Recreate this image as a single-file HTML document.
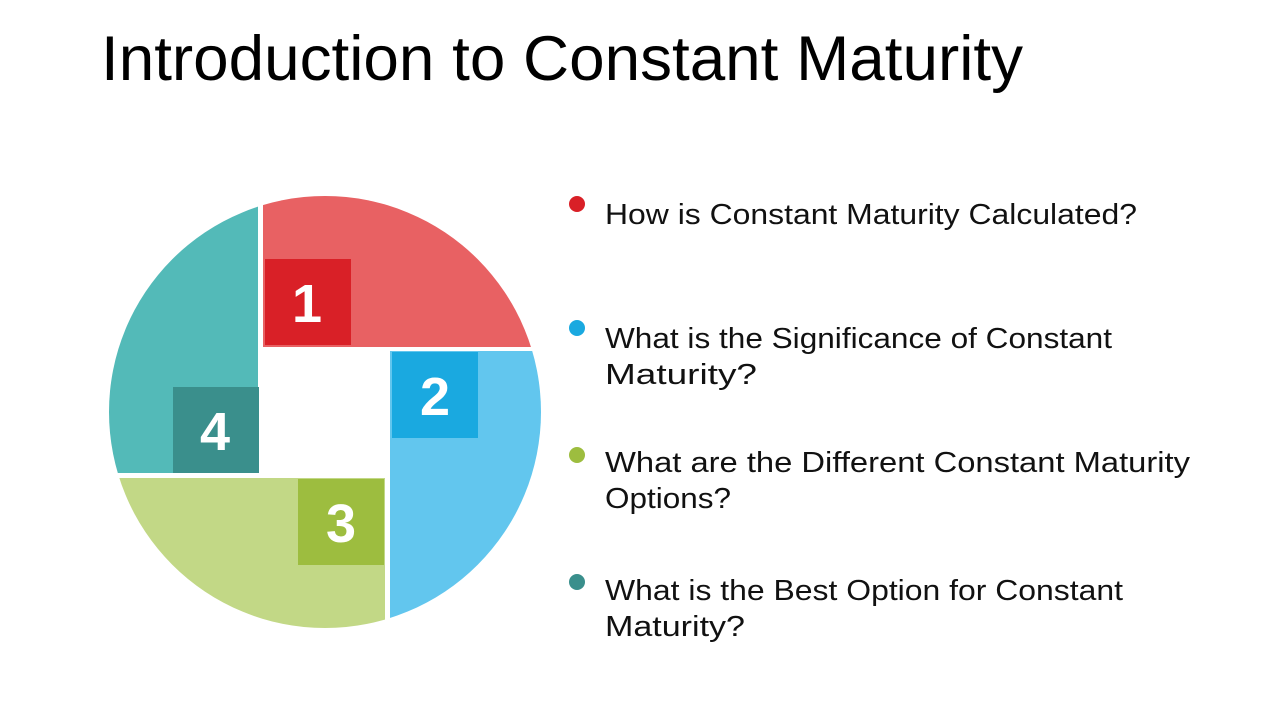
<!DOCTYPE html>
<html><head><meta charset="utf-8"><style>
html,body{margin:0;padding:0;background:#fff;width:1280px;height:720px;overflow:hidden}
svg{display:block}
</style></head><body>
<svg width="1280" height="720" viewBox="0 0 1280 720">
<defs><clipPath id="c"><circle cx="325" cy="412" r="216"/></clipPath></defs>
<text x="101" y="80" font-family="Liberation Sans, sans-serif" font-size="63" fill="#000" textLength="922" lengthAdjust="spacingAndGlyphs">Introduction to Constant Maturity</text>
<g clip-path="url(#c)">
<rect x="263" y="150" width="320" height="197" fill="#e86163"/>
<rect x="390" y="351" width="200" height="320" fill="#62c6ee"/>
<rect x="60" y="478" width="325" height="200" fill="#c2d886"/>
<rect x="60" y="150" width="198" height="323" fill="#53bab8"/>
</g>
<g font-family="Liberation Sans, sans-serif" font-size="54" font-weight="bold" fill="#fff" text-anchor="middle">
<rect x="265" y="259" width="86" height="86" fill="#d92027"/>
<text x="307" y="322">1</text>
<rect x="392" y="352" width="86" height="86" fill="#1aa9e0"/>
<text x="435" y="415">2</text>
<rect x="298" y="479" width="86" height="86" fill="#9dbd3f"/>
<text x="341" y="542">3</text>
<rect x="173" y="387" width="86" height="86" fill="#3a8f8c"/>
<text x="215" y="450">4</text>
</g>
<g font-family="Liberation Sans, sans-serif" font-size="29" fill="#111" lengthAdjust="spacingAndGlyphs">
<circle cx="577" cy="204" r="8" fill="#d92027"/>
<text x="605" y="224" textLength="532" lengthAdjust="spacingAndGlyphs">How is Constant Maturity Calculated?</text>
<circle cx="577" cy="328" r="8" fill="#1aa9e0"/>
<text x="605" y="348" textLength="507" lengthAdjust="spacingAndGlyphs">What is the Significance of Constant</text>
<text x="605" y="384" textLength="152" lengthAdjust="spacingAndGlyphs">Maturity?</text>
<circle cx="577" cy="455" r="8" fill="#9dbd3f"/>
<text x="605" y="472" textLength="585" lengthAdjust="spacingAndGlyphs">What are the Different Constant Maturity</text>
<text x="605" y="508" textLength="126" lengthAdjust="spacingAndGlyphs">Options?</text>
<circle cx="577" cy="582" r="8" fill="#3a8f8c"/>
<text x="605" y="600" textLength="518" lengthAdjust="spacingAndGlyphs">What is the Best Option for Constant</text>
<text x="605" y="636" textLength="140" lengthAdjust="spacingAndGlyphs">Maturity?</text>
</g>
</svg>
</body></html>
